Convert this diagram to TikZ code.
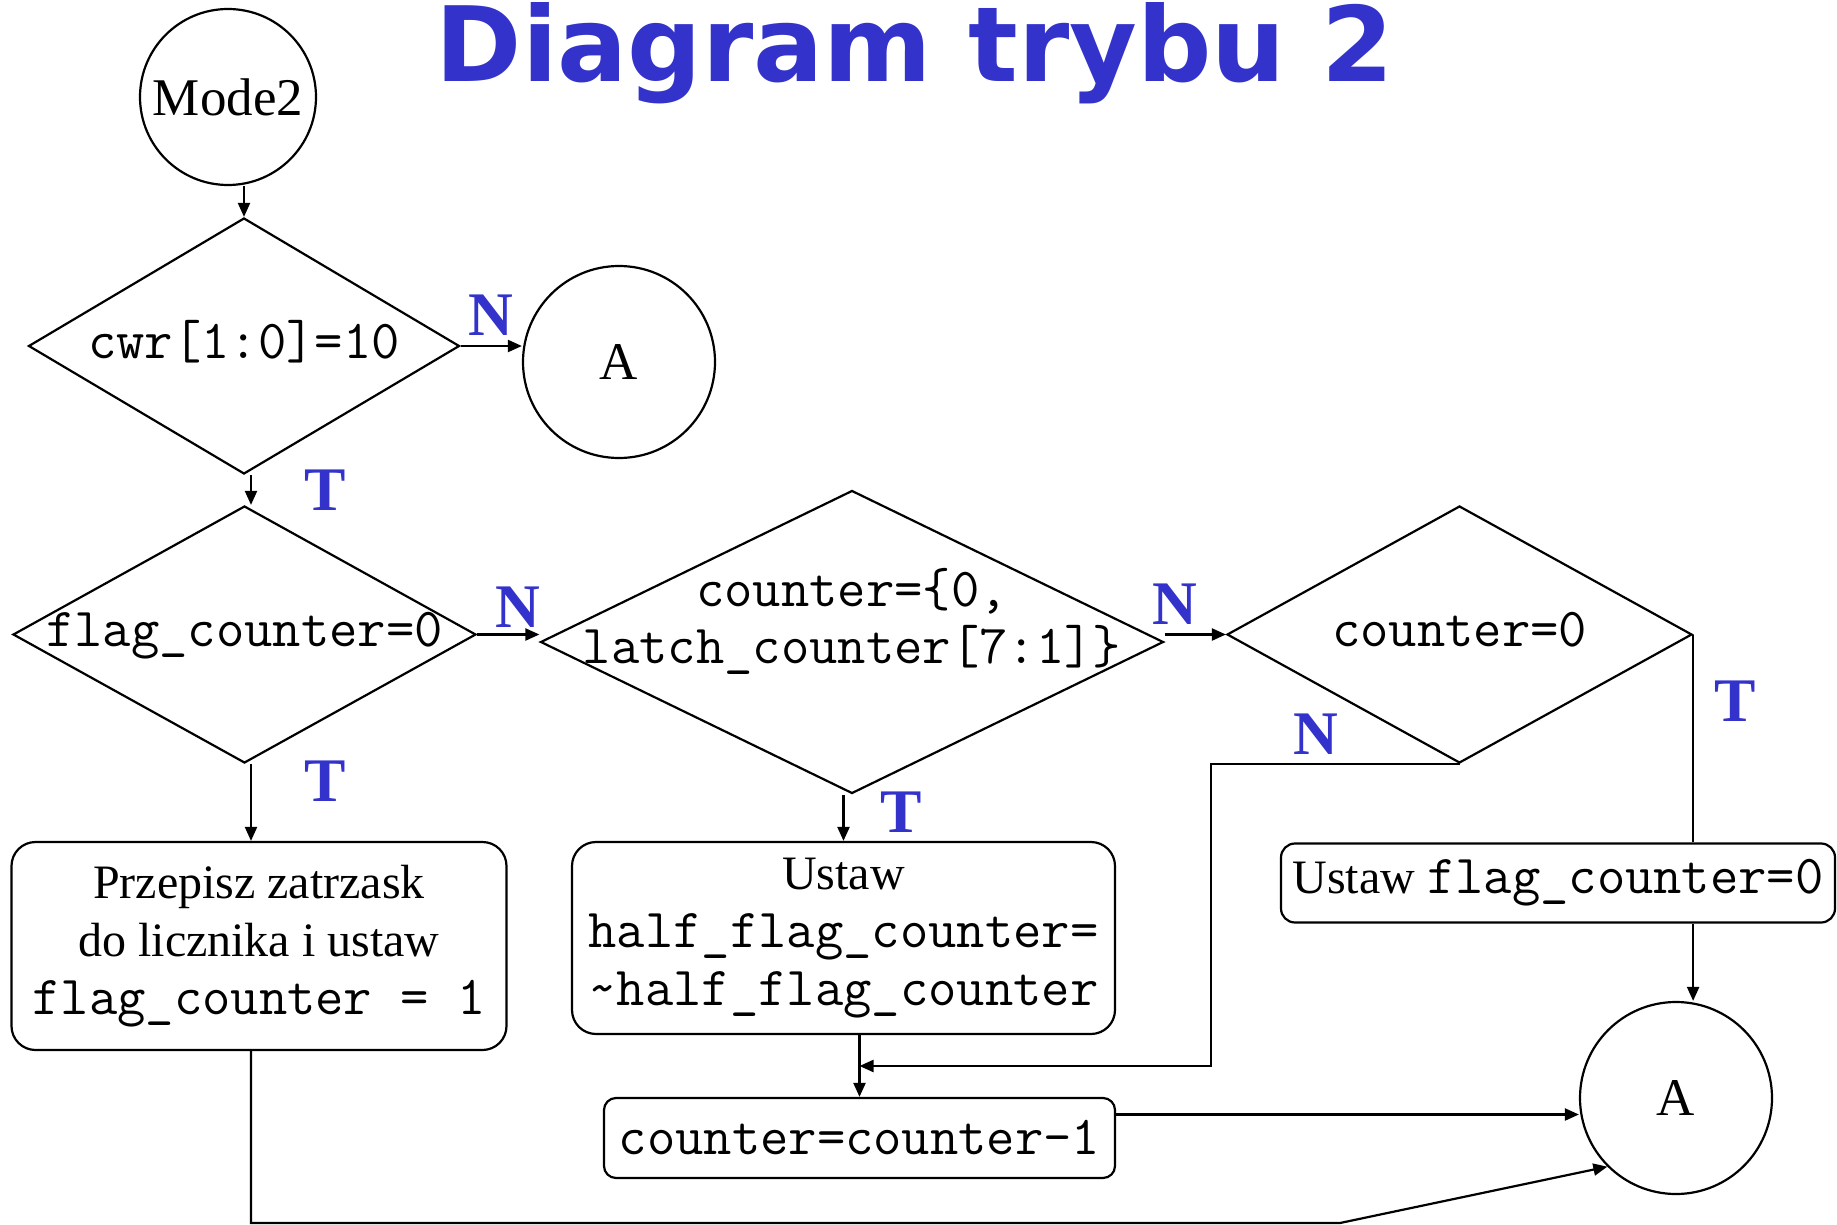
\documentclass[tikz,border=0pt]{standalone}
\usepackage{fontspec}
\setmainfont{Liberation Serif}
\newfontfamily\titlefont{DejaVu Sans}
\usetikzlibrary{shapes.geometric,arrows.meta,calc}

\definecolor{tblue}{RGB}{51,51,204}
\newcommand{\code}[1]{{\ttfamily\fontsize{27.5}{29}\selectfont #1}}
\newcommand{\dtext}[2][-6pt]{\makebox[0pt]{\raisebox{#1}[0pt][0pt]{\begin{tabular}[t]{@{}c@{}}#2\end{tabular}}}}

\begin{document}
\begin{tikzpicture}[x=0.5pt, y=-0.5pt, line width=1.1pt,
    decision/.style={draw, diamond, inner sep=0pt, font=\ttfamily\fontsize{27.5}{28.5}\selectfont},
    connector/.style={draw, circle, inner sep=0pt, font=\fontsize{26.5}{30}\selectfont},
    process/.style={draw, rounded corners=12pt, inner sep=3pt, align=center, font=\fontsize{24}{29}\selectfont},
    lab/.style={inner sep=0pt, text=tblue, font=\bfseries\fontsize{31}{31}\selectfont},
    arr/.style={-{Triangle[length=7pt,width=6pt]}}]

\useasboundingbox (0,0) rectangle (1837,1225);

%TITLE
\node[anchor=base, inner sep=0pt, text=tblue, font=\titlefont\bfseries\fontsize{52}{52}\selectfont] (title) at (915,82) {Diagram trybu 2};

%START AND EXITS
\node[connector, minimum size=88pt] (mode2) at (228,97) {Mode2};
\node[connector, minimum size=96pt] (a1) at (619,362) {A};
\node[connector, minimum size=96pt] (a2) at (1676,1098) {A};

%DECISIONS
\node[decision, minimum width=215.5pt, minimum height=128pt] (d1) at (244,346) {\dtext{cwr[1:0]=10}};
\node[decision, minimum width=231.5pt, minimum height=128.5pt] (d2) at (244.5,634.5) {\dtext{flag\_counter=0}};
\node[decision, minimum width=311.5pt, minimum height=151.5pt] (d3) at (852,642) {\dtext[18pt]{counter=\{0,\\latch\_counter[7:1]\}}};
\node[decision, minimum width=232.5pt, minimum height=128.5pt] (d4) at (1459.5,634.5) {\dtext{counter=0}};

%ACTIONS
\node[process, minimum width=247.5pt, minimum height=104pt] (prz) at (259,946) {Przepisz zatrzask\\do licznika i ustaw\\\code{flag\_counter = 1}};
\node[process, minimum width=271.5pt, minimum height=96pt] (ustaw) at (843.5,938) {Ustaw\\\code{half\_flag\_counter=}\\\code{\textasciitilde half\_flag\_counter}};
\node[process, rounded corners=6pt, minimum width=255.5pt, minimum height=40pt] (cnt) at (859.5,1138) {\code{counter=counter-1}};
\node[process, rounded corners=7pt, minimum width=277pt, minimum height=39.5pt] (fc0) at (1558,883) {Ustaw \code{flag\_counter=0}};

%HELPER POINTS
\coordinate (spine) at (251,0);
\coordinate (join) at ($(ustaw.south -| cnt.north)!0.5!(cnt.north)$);
\coordinate (jog) at (1211,0);
\coordinate (low) at (1340,1223);
\coordinate (cntout) at ([yshift=11.75pt]cnt.east);

%CONNECTORS
\draw[arr] (d1.north |- mode2.south) -- (d1.north);
\draw[arr] (d1.east) -- node[lab, above=4.5pt] {N} (d1.east -| a1.west);
\draw[arr] (spine |- d1.south) -- node[lab, right=26pt] {T} (spine |- d2.north);
\draw[arr] (d2.east) -- node[lab, above=3pt, pos=0.65] {N} (d2.east -| d3.west);
\draw[arr] (spine |- d2.south) -- node[lab, right=26pt, pos=0.22] {T} (spine |- prz.north);
\draw[arr] (d3.east |- d4.west) -- node[lab, above=4.5pt, pos=0.17] {N} (d4.west);
\draw[arr] (ustaw.north |- d3.south) -- node[lab, right=18pt, pos=0.37] {T} (ustaw.north);
\draw (d4.east) -- node[lab, right=10pt, pos=0.32] {T} (d4.east |- fc0.north);
\draw[arr] (d4.east |- fc0.south) -- (d4.east |- a2.north);
\draw[arr] (d4.south) -| node[lab, above=4.5pt, pos=0.29] {N} (jog |- join) -- (join);
\draw[arr] (ustaw.south -| cnt.north) -- (cnt.north);
\draw[arr] (cntout) -- (cntout -| a2.west);
\draw[arr] (spine |- prz.south) |- (low) -- (a2.225);

\end{tikzpicture}
\end{document}
